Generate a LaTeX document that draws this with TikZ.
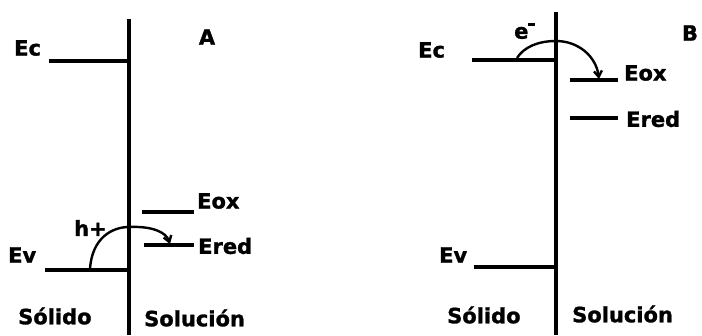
\documentclass[tikz,border=0pt]{standalone}
\usepackage{fontspec}
\setmainfont[BoldFeatures={FakeBold=1.3}]{DejaVu Sans}
\usetikzlibrary{arrows.meta}
\begin{document}
\begin{tikzpicture}[x=1pt,y=-1pt,
  lvl/.style={line width=3.4pt},
  wall/.style={line width=3.4pt},
  lab/.style={font=\fontsize{21}{21}\selectfont\bfseries, inner sep=0pt},
  hop/.style={line width=2.4pt, -{Straight Barb[length=6pt,width=8pt]}}]
\useasboundingbox (0,0) rectangle (702,335);
% ---------- Panel A ----------
\coordinate (aT) at (129,19);
\coordinate (aB) at (129,335);
\draw[wall] (aT) -- (aB);
\coordinate (aEc1) at (49,61);  \coordinate (aEc2) at (129,61);
\draw[lvl] (aEc1) -- (aEc2);
\coordinate (aEv1) at (45,270); \coordinate (aEv2) at (129,270);
\draw[lvl] (aEv1) -- (aEv2);
\coordinate (aOx1) at (142,212); \coordinate (aOx2) at (194,212);
\draw[lvl] (aOx1) -- (aOx2);
\coordinate (aRd1) at (144,245); \coordinate (aRd2) at (194,245);
\draw[lvl] (aRd1) -- (aRd2);
\node[lab, anchor=west] (aEcL) at (14,48) {Ec};
\node[lab, anchor=west] (aEvL) at (8,255) {Ev};
\node[lab, anchor=west] (aOxL) at (197,201) {Eox};
\node[lab, anchor=west] (aRdL) at (198,246) {Ered};
\node[lab, anchor=west] (aH) at (74,228) {h+};
\node[lab] (aA) at (207,37) {A};
\node[lab, anchor=west] (aSol) at (18,316) {Sólido};
\node[lab, anchor=west] (aSoln) at (144,318) {Solución};
\coordinate (aS) at (90,269);
\coordinate (aM) at (129,227);
\coordinate (aE) at (170,244);
\draw[hop] (aS) .. controls (92,238) and (112,227) .. (aM)
  .. controls (152,226) and (166,232) .. (aE);
% ---------- Panel B ----------
\coordinate (bT) at (556,12);
\coordinate (bB) at (556,335);
\draw[wall] (bT) -- (bB);
\coordinate (bEc1) at (472,60);  \coordinate (bEc2) at (556,60);
\draw[lvl] (bEc1) -- (bEc2);
\coordinate (bEv1) at (474,267); \coordinate (bEv2) at (556,267);
\draw[lvl] (bEv1) -- (bEv2);
\coordinate (bOx1) at (570,80); \coordinate (bOx2) at (618,80);
\draw[lvl] (bOx1) -- (bOx2);
\coordinate (bRd1) at (570,118); \coordinate (bRd2) at (618,118);
\draw[lvl] (bRd1) -- (bRd2);
\node[lab, anchor=west] (bEcL) at (418,50) {Ec};
\node[lab, anchor=west] (bEvL) at (439,255) {Ev};
\node[lab, anchor=west] (bOxL) at (624,73) {Eox};
\node[lab, anchor=west] (bRdL) at (626,119) {Ered};
\node[lab, anchor=west] (bE) at (514,31) {e\raisebox{0.62em}{\rule{7pt}{2.6pt}}};
\node[lab] (bBL) at (690,33) {B};
\node[lab, anchor=west] (bSol) at (447,315) {Sólido};
\node[lab, anchor=west] (bSoln) at (572,314) {Solución};
\coordinate (bS) at (517,58);
\coordinate (bM) at (556,41);
\coordinate (bEnd) at (599,79);
\draw[hop] (bS) .. controls (524,47) and (538,41) .. (bM)
  .. controls (578,41) and (596,56) .. (bEnd);
\end{tikzpicture}
\end{document}
